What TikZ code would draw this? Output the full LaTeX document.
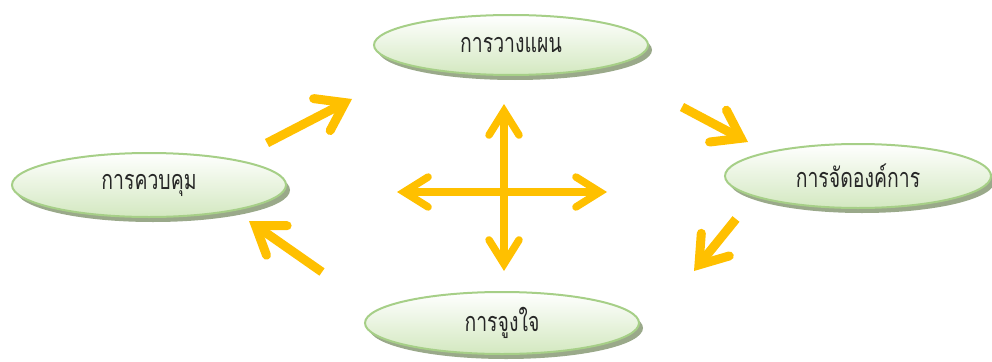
\documentclass[tikz,border=0pt]{standalone}
\usepackage{fontspec}
\newfontfamily\thaifont[Script=Thai]{Loma}
\usetikzlibrary{shapes.geometric,shadows,arrows.meta}
\definecolor{arrowyellow}{HTML}{FFC000}
\definecolor{ellborder}{HTML}{A6CF87}
\definecolor{ellfill}{HTML}{D3E8C0}
\definecolor{ellshadow}{HTML}{8FA07D}
\definecolor{txt}{HTML}{262626}
\newcommand{\ttxt}[1]{\scalebox{0.72}[1]{#1}}
\tikzset{
  topic/.style={ellipse, draw=ellborder, line width=2pt, top color=white, bottom color=ellfill,
    inner sep=0pt, font=\thaifont\fontsize{27}{31}\selectfont, text=txt,
    drop shadow={shadow xshift=4pt, shadow yshift=-5pt, fill=ellshadow, opacity=0.9}},
  cross/.style={draw=arrowyellow, line width=7.5pt,
    {Straight Barb[length=24pt,width=30pt,line cap=round,line join=miter]}-{Straight Barb[length=24pt,width=30pt,line cap=round,line join=miter]}},
  flow/.style={draw=arrowyellow, line width=9pt,
    -{Straight Barb[length=26pt,width=36pt,line cap=round,line join=miter]}},
}
\begin{document}
\begin{tikzpicture}[x=1pt,y=-1pt]
\useasboundingbox (0,0) rectangle (992,361);
\node[topic, minimum width=274pt, minimum height=60pt] (plan) at (511,45) {\ttxt{การวางแผน}};
\node[topic, minimum width=274pt, minimum height=64pt] (ctrl) at (149,185) {\ttxt{การควบคุม}};
\node[topic, minimum width=266pt, minimum height=64pt] (org) at (858,176) {\ttxt{การจัดองค์การ}};
\node[topic, minimum width=274pt, minimum height=62pt] (mot) at (502,323) {\ttxt{การจูงใจ}};
% central cross
\coordinate (ct) at (504,104);
\coordinate (cb) at (504,271);
\coordinate (cl) at (397,192);
\coordinate (cr) at (607,192);
\draw[cross] (ct) -- (cb);
\draw[cross] (cl) -- (cr);
% flow arrows
\coordinate (a1s) at (267,143);
\coordinate (a1e) at (352,99);
\coordinate (a2s) at (682,107);
\coordinate (a2e) at (748,142);
\coordinate (a3s) at (736,219);
\coordinate (a3e) at (694,271);
\coordinate (a4s) at (322,272);
\coordinate (a4e) at (249,221);
\draw[flow] (a1s) -- (a1e);
\draw[flow] (a2s) -- (a2e);
\draw[flow] (a3s) -- (a3e);
\draw[flow] (a4s) -- (a4e);
\end{tikzpicture}
\end{document}
